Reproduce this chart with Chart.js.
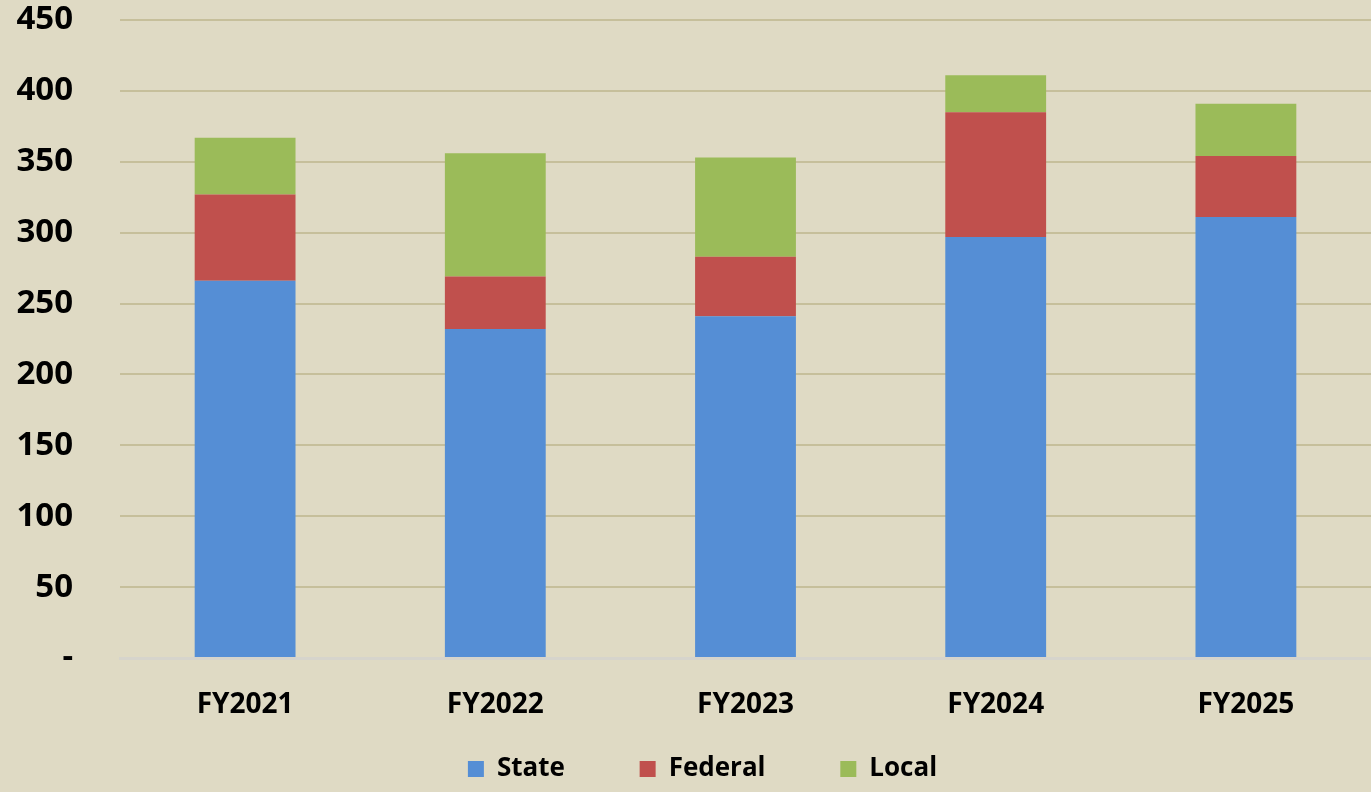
<!DOCTYPE html>
<html>
<head>
<meta charset="utf-8">
<script src="https://cdn.jsdelivr.net/npm/chart.js@4/dist/chart.umd.min.js"></script>
<style>
    body { margin: 0; background: #DFDAC4; }
    #wrap { width: 1371px; height: 792px; position: relative; }
</style>
</head>
<body>
<div id="wrap"><canvas id="fundingChart"></canvas></div>
<script>
// Datos del gráfico
const categories = ['FY2021', 'FY2022', 'FY2023', 'FY2024', 'FY2025'];
const stateValues = [266, 232, 241, 297, 311];
const federalValues = [61, 37, 42, 88, 43];
const localValues = [40, 87, 70, 26, 37];
const yTicks = [0, 50, 100, 150, 200, 250, 300, 350, 400, 450];

const tickFont = { family: 'Open Sans', weight: 'bold', size: 33 };
const axisFont = { family: 'Open Sans', weight: 'bold', size: 28 };
const legendFont = { family: 'Open Sans', weight: 'bold', size: 26 };

// Mueve la leyenda un poco a la derecha
const legendShift = {
    id: 'legendShift',
    afterLayout: function(chart) {
        if (chart.legend) {
            chart.legend.left += 17;
            chart.legend.right += 17;
        }
    }
};

var ctx = document.getElementById('fundingChart');
new Chart(ctx, {
    type: 'bar',
    data: {
        labels: categories,
        datasets: [
            { label: 'State', data: stateValues, backgroundColor: '#558ED5' },
            { label: 'Federal', data: federalValues, backgroundColor: '#C0504D' },
            { label: 'Local', data: localValues, backgroundColor: '#9BBB59' }
        ]
    },
    options: {
        responsive: true,
        maintainAspectRatio: false,
        animation: false,
        layout: { padding: { top: 20, left: 0, right: 0, bottom: 0 } },
        datasets: {
            bar: { barPercentage: 0.403, categoryPercentage: 1 }
        },
        scales: {
            x: {
                stacked: true,
                grid: { display: false, drawTicks: false },
                border: { display: true, color: '#D6D4CC', width: 3 },
                ticks: { color: '#000', font: axisFont, padding: 30 },
                afterFit: function(scale) { scale.height = 84; }
            },
            y: {
                stacked: true,
                min: yTicks[0],
                max: yTicks[yTicks.length - 1],
                afterBuildTicks: function(scale) {
                    scale.ticks = yTicks.map(v => ({ value: v }));
                },
                grid: {
                    drawTicks: false,
                    lineWidth: 2,
                    color: function(c) {
                        return c.tick && c.tick.value === 0 ? 'rgba(0,0,0,0)' : '#C6BF9B';
                    }
                },
                border: { display: false },
                ticks: {
                    color: '#000',
                    font: tickFont,
                    padding: 47,
                    callback: function(value) {
                        return value === 0 ? '-' : value;
                    }
                },
                afterFit: function(scale) {
                    scale.width = 120;
                    scale.paddingTop = 0;
                    scale.paddingBottom = 0;
                }
            }
        },
        plugins: {
            legend: {
                position: 'bottom',
                labels: {
                    color: '#000',
                    font: legendFont,
                    boxWidth: 16,
                    boxHeight: 16,
                    padding: 14,
                    // espacio extra entre elementos de la leyenda
                    generateLabels: function(chart) {
                        const items = Chart.defaults.plugins.legend.labels.generateLabels(chart);
                        items.forEach(function(item, i) {
                            if (i < items.length - 1) item.text += '\u00A0'.repeat(9);
                        });
                        return items;
                    }
                }
            },
            tooltip: { enabled: false }
        }
    },
    plugins: [legendShift]
});
</script>
</body>
</html>
